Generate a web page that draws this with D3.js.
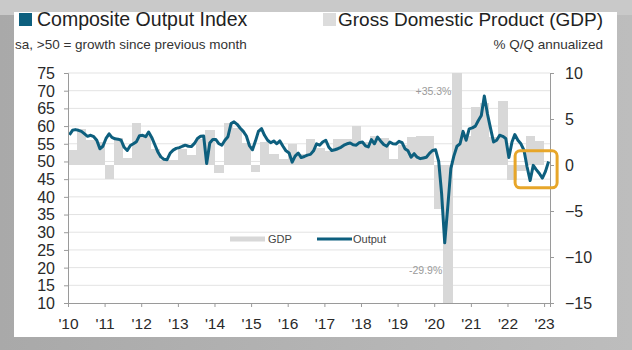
<!DOCTYPE html>
<html lang="en">
  <head>
    <meta charset="utf-8" />
    <title>Composite Output Index vs GDP</title>
    <script src="https://cdnjs.cloudflare.com/ajax/libs/d3/7.8.5/d3.min.js"></script>
    <style type="text/css">
      body { margin: 0; background: #c4c4c4; }
      svg { display: block; font-family: "Liberation Sans", Arial, sans-serif; }
    </style>
  </head>

  <body>
    <div id="chart"></div>
    <script>
      // monthly composite output index, Jan 2010 .. Feb 2023
      const outputStart = new Date(2010, 0, 15);
      const outputValues = [
        57.5, 58.8, 59.0, 58.8, 58.5, 57.8, 57.1, 57.4, 57.0, 56.0, 53.6, 54.3,
        56.5, 57.8, 56.8, 56.4, 56.3, 56.0, 54.0, 53.1, 54.5, 55.0, 55.6, 57.3,
        57.4, 57.0, 58.3, 56.8, 54.8, 52.7, 51.3, 50.6, 50.5, 52.3, 53.2, 53.7,
        53.9, 54.3, 54.6, 54.3, 54.2, 55.1, 56.5, 57.1, 57.2, 49.4, 55.2, 56.2,
        56.2, 55.0, 54.6, 56.0, 57.0, 60.7, 61.2, 60.5, 59.4, 58.5, 57.2, 54.5,
        53.3, 55.9, 58.5, 59.3, 57.4, 56.0, 55.3, 55.8, 55.0, 55.8, 54.3, 53.0,
        52.4, 49.8, 51.5, 52.4, 51.1, 51.4, 51.8, 52.0, 53.0, 55.0, 54.6, 55.5,
        56.0, 54.0, 53.1, 53.3, 53.6, 54.0, 54.6, 55.0, 55.2, 54.7, 54.6, 55.3,
        55.5, 54.4, 54.1, 56.2, 55.0, 56.9, 55.8, 54.8, 54.3, 55.5, 55.0, 54.9,
        55.7, 55.3, 53.6, 53.0, 51.2, 52.2, 51.2, 50.8, 51.0, 51.2, 52.3, 53.1,
        53.3, 50.0, 40.9, 27.0, 37.0, 48.0, 51.5, 54.3, 55.0, 58.5, 56.0, 59.2,
        59.5, 60.0, 61.5, 63.0, 68.5, 63.5, 59.5, 55.5, 56.0, 57.4, 57.1, 56.5,
        51.1, 55.5, 57.6, 56.0, 55.0, 53.1, 48.5, 44.6, 48.9, 47.7, 46.6, 45.3,
        47.2, 50.0
      ];

      // quarterly GDP, % q/q annualized, 2010Q1 .. 2022Q4
      const gdpStart = new Date(2010, 0, 1);
      const gdpValues = [
        1.6, 3.9, 2.7, 2.5,
        -1.5, 2.9, 0.8, 4.6,
        3.2, 1.7, 0.5, 0.5,
        1.7, 1.1, 2.8, 3.8,
        -0.9, 4.6, 4.0, 2.4,
        -0.8, 2.5, 1.2, 0.6,
        2.3, 1.2, 2.8, 1.8,
        1.5, 2.8, 2.8, 4.2,
        2.5, 3.2, 2.9, 0.7,
        2.2, 3.0, 3.2, 3.2,
        -4.8, -29.9, 35.3, 3.2,
        6.3, 6.7, 3.0, 7.0,
        -1.6, -0.6, 3.2, 2.6
      ];

      const yearTicks = d3.range(2010, 2024);
      const yearLabels = ["'10", "'11", "'12", "'13", "'14", "'15", "'16", "'17", "'18", "'19", "'20", "'21", "'22", "'23"];
      const leftTicks = d3.range(10, 80, 5);
      const rightTicks = [-15, -10, -5, 0, 5, 10];
      const gdpNotes = [{ q: 41, text: '-29.9%' }, { q: 42, text: '+35.3%' }];

      const W = 632, H = 350;
      const plot = { left: 68, right: 550, top: 73, bottom: 303 };
      const blue = '#0d5f7e';
      const barGrey = '#d8d8d8';

      const outputData = outputValues.map((v, i) => ({ date: d3.timeMonth.offset(outputStart, i), v }));
      const gdpData = gdpValues.map((v, i) => ({
        start: d3.timeMonth.offset(gdpStart, i * 3),
        end: d3.timeMonth.offset(gdpStart, i * 3 + 3),
        v
      }));

      const x = d3.scaleTime()
        .domain([new Date(2010, 0, 1), new Date(2023, 2, 1)])
        .range([plot.left, plot.right]);
      const yL = d3.scaleLinear().domain([10, 75]).range([plot.bottom, plot.top]);
      const yR = d3.scaleLinear().domain([-15, 10]).range([plot.bottom, plot.top]);

      const svg = d3.select('#chart')
        .append('svg')
        .attr('width', W)
        .attr('height', H);

      // slide frame
      const grad = svg.append('defs').append('linearGradient')
        .attr('id', 'frame').attr('x1', 0).attr('x2', 1);
      grad.append('stop').attr('offset', 0).attr('stop-color', '#a9a9a9');
      grad.append('stop').attr('offset', 1).attr('stop-color', '#bdbdbd');
      svg.append('rect').attr('width', W).attr('height', H).attr('fill', 'url(#frame)');
      svg.append('rect').attr('x', 0).attr('y', 0).attr('width', W).attr('height', 15).attr('fill', '#c9c9c9');
      svg.append('rect')
        .attr('x', 14).attr('y', 12).attr('width', 603).attr('height', 325)
        .attr('fill', '#ffffff');

      svg.append('defs').append('clipPath').attr('id', 'plotclip')
        .append('rect')
        .attr('x', plot.left).attr('y', plot.top)
        .attr('width', plot.right - plot.left).attr('height', plot.bottom - plot.top);

      // headers
      svg.append('rect').attr('x', 19).attr('y', 13).attr('width', 13).attr('height', 13).attr('fill', blue);
      svg.append('text').attr('x', 37).attr('y', 26)
        .attr('font-size', 19.5).attr('fill', '#222').text('Composite Output Index');
      svg.append('text').attr('x', 15).attr('y', 49)
        .attr('font-size', 13.5).attr('fill', '#333').text('sa, >50 = growth since previous month');
      svg.append('rect').attr('x', 323).attr('y', 13).attr('width', 13).attr('height', 13).attr('fill', '#dcdcdc');
      svg.append('text').attr('x', 603).attr('y', 26).attr('text-anchor', 'end')
        .attr('font-size', 19).attr('fill', '#222').text('Gross Domestic Product (GDP)');
      svg.append('text').attr('x', 603).attr('y', 49).attr('text-anchor', 'end')
        .attr('font-size', 13.5).attr('fill', '#333').text('% Q/Q annualized');

      // gridlines
      svg.append('g')
        .selectAll('line')
        .data(leftTicks.filter(d => d > 10))
        .join('line')
        .attr('x1', plot.left).attr('x2', plot.right)
        .attr('y1', d => yL(d)).attr('y2', d => yL(d))
        .attr('stroke', '#e3e3e3')
        .attr('stroke-width', 1);

      // GDP bars
      const plotArea = svg.append('g').attr('clip-path', 'url(#plotclip)');
      plotArea.append('g')
        .selectAll('rect')
        .data(gdpData)
        .join('rect')
        .attr('x', d => x(d.start))
        .attr('width', d => x(d.end) - x(d.start) + 0.2)
        .attr('y', d => Math.min(yR(d.v), yR(0)))
        .attr('height', d => Math.abs(yR(d.v) - yR(0)))
        .attr('fill', barGrey)
        .attr('shape-rendering', 'crispEdges');

      svg.append('g')
        .selectAll('text')
        .data(gdpNotes)
        .join('text')
        .attr('x', d => x(gdpData[d.q].start) - 1)
        .attr('y', d => gdpData[d.q].v > 0 ? 95 : 274)
        .attr('text-anchor', 'end')
        .attr('font-size', 10.5)
        .attr('fill', '#9a9a9a')
        .text(d => d.text);

      // output line
      const line = d3.line()
        .x(d => x(d.date))
        .y(d => yL(d.v));
      plotArea.append('path')
        .datum(outputData)
        .attr('d', line)
        .attr('fill', 'none')
        .attr('stroke', blue)
        .attr('stroke-width', 3)
        .attr('stroke-linejoin', 'round');

      // axes
      const axisColor = '#9a9a9a';
      const gL = svg.append('g')
        .attr('transform', `translate(${plot.left},0)`)
        .call(d3.axisLeft(yL).tickValues(leftTicks).tickSize(4).tickPadding(9));
      const gR = svg.append('g')
        .attr('transform', `translate(${plot.right},0)`)
        .call(d3.axisRight(yR).tickValues(rightTicks).tickSize(4).tickPadding(11));
      const gX = svg.append('g')
        .attr('transform', `translate(0,${plot.bottom})`)
        .call(d3.axisBottom(x)
          .tickValues(yearTicks.map(y => new Date(y, 0, 1)))
          .tickFormat((d, i) => yearLabels[i])
          .tickSize(4)
          .tickPadding(11));
      [gL, gR, gX].forEach(g => {
        g.selectAll('path').attr('stroke', axisColor);
        g.selectAll('line').attr('stroke', axisColor);
        g.selectAll('text')
          .attr('fill', '#2a2a2a')
          .attr('font-family', '"Liberation Sans", Arial, sans-serif')
          .attr('font-size', 16);
      });
      gX.selectAll('text').attr('font-size', 15.5);
      gL.selectAll('text').attr('dy', '0.34em');
      gR.selectAll('text').attr('dy', '0.34em');

      // in-plot legend
      const leg = svg.append('g').attr('font-size', 11).attr('fill', '#444');
      leg.append('rect').attr('x', 230).attr('y', 236.5).attr('width', 35).attr('height', 5).attr('fill', barGrey);
      leg.append('text').attr('x', 268).attr('y', 243).text('GDP');
      leg.append('line').attr('x1', 317).attr('x2', 352).attr('y1', 239).attr('y2', 239)
        .attr('stroke', blue).attr('stroke-width', 3);
      leg.append('text').attr('x', 353).attr('y', 243).text('Output');

      // highlight box around the latest readings
      svg.append('rect')
        .attr('x', x(new Date(2022, 2, 18)))
        .attr('y', yL(53))
        .attr('width', 42)
        .attr('height', 37)
        .attr('rx', 5)
        .attr('fill', 'none')
        .attr('stroke', '#e7a62a')
        .attr('stroke-width', 3);
    </script>
  </body>
</html>
